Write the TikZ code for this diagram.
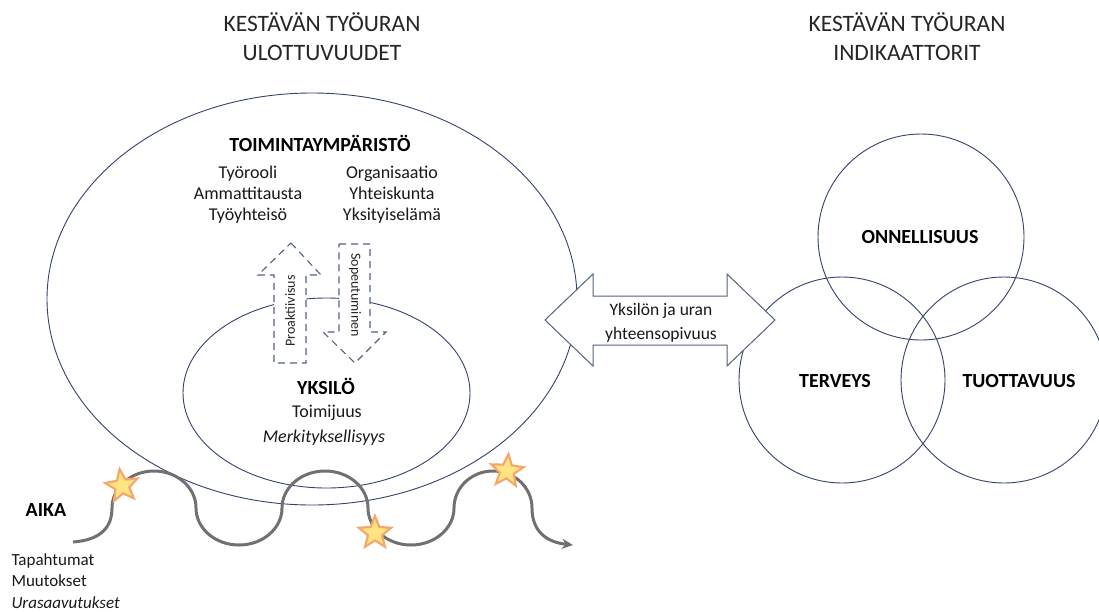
\documentclass[tikz,border=0pt]{standalone}
\usepackage{fontspec}
\setmainfont{Carlito}
\usetikzlibrary{shapes.geometric,arrows.meta}
\definecolor{navy}{RGB}{52,66,110}
\definecolor{arrowline}{RGB}{84,98,128}
\definecolor{wavegray}{RGB}{112,112,112}
\definecolor{starfill}{RGB}{255,228,130}
\definecolor{staredge}{RGB}{246,168,108}
\tikzset{
  outline/.style={draw=navy, line width=0.9pt},
  bigarrow/.style={draw=arrowline, line width=1pt, fill=white, line join=miter},
  dasharrow/.style={draw=arrowline, line width=1.1pt, fill=white, dash pattern=on 7pt off 5pt},
  wave/.style={draw=wavegray, line width=3pt, -{Stealth[length=11pt,width=10pt]}},
  starmark/.style={star, star points=5, star point ratio=2.3, minimum size=34pt, inner sep=0pt, fill=starfill, draw=staredge, line width=2.2pt},
  title/.style={font=\fontsize{23.5}{29}\selectfont, align=center, text=black!85},
  body/.style={font=\fontsize{18}{21}\selectfont, align=center, text=black!90},
  head/.style={font=\fontsize{20}{22}\selectfont\bfseries, text=black},
  small/.style={font=\fontsize{14}{16}\selectfont, text=black!85}
}
\begin{document}
\begin{tikzpicture}[x=1pt,y=-1pt]
\useasboundingbox (0,0) rectangle (1099,611);
% ellipses
\node[ellipse, outline, minimum width=530pt, minimum height=412pt, inner sep=0pt] (outer) at (312,299) {};
\node[ellipse, outline, minimum width=287pt, minimum height=190pt, inner sep=0pt] (inner) at (326.5,393) {};
% circles
\node[circle, outline, minimum size=206pt, inner sep=0pt] (onn) at (921,237) {};
\node[circle, outline, minimum size=206pt, inner sep=0pt] (ter) at (842,380) {};
\node[circle, outline, minimum size=206pt, inner sep=0pt] (tuo) at (1004,380) {};
% wave
\coordinate (ws) at (73,542);
\coordinate (we) at (573,545);
\draw[wave] (ws) .. controls (100,540) and (112,528) .. (112,508)
  arc[start angle=180, end angle=360, x radius=42, y radius=37]
  arc[start angle=180, end angle=0, x radius=43, y radius=37]
  arc[start angle=180, end angle=360, x radius=43, y radius=37]
  arc[start angle=180, end angle=0, x radius=43, y radius=37]
  arc[start angle=180, end angle=360, x radius=39, y radius=37]
  .. controls (532,530) and (545,542) .. (we);
% stars
\node[starmark, rotate=8] (s1) at (122,486) {};
\node[starmark] (s2) at (375,533) {};
\node[starmark, rotate=-5] (s3) at (507,471) {};
% double arrow
\draw[bigarrow] (545,320) -- (593,274) -- (593,296) -- (727,296) -- (727,274) -- (775,320) -- (727,366) -- (727,345) -- (593,345) -- (593,366) -- cycle;
% dashed arrows
\draw[dasharrow] (291,243) -- (321,275) -- (306,275) -- (306,363) -- (274,363) -- (274,275) -- (258,275) -- cycle;
\draw[dasharrow] (339,244) -- (370,244) -- (370,332) -- (386,332) -- (355,363) -- (323,332) -- (339,332) -- cycle;
\node[small, rotate=90] (proa) at (290,311) {Proaktiivisus};
\node[small, rotate=-90] (sope) at (355,295) {Sopeutuminen};
% titles
\node[title] (t1) at (322,37) {KESTÄVÄN TYÖURAN\\ULOTTUVUUDET};
\node[title] (t2) at (907,37) {KESTÄVÄN TYÖURAN\\INDIKAATTORIT};
% environment
\node[head] (toim) at (320,143) {TOIMINTAYMPÄRISTÖ};
\node[body] (lcol) at (248,195) {Työrooli\\Ammattitausta\\Työyhteisö};
\node[body] (rcol) at (392,195) {Organisaatio\\Yhteiskunta\\Yksityiselämä};
% individual
\node[head] (yks) at (326,386) {YKSILÖ};
\node[body] (toimij) at (327,413) {Toimijuus};
\node[body, font=\fontsize{18}{21}\selectfont\itshape] (merk) at (324,438) {Merkityksellisyys};
% arrow text
\node[body, font=\fontsize{17.5}{24}\selectfont] (fit) at (661,323) {Yksilön ja uran\\yhteensopivuus};
% indicators
\node[head] (onnt) at (920,237) {ONNELLISUUS};
\node[head] (tert) at (835,381) {TERVEYS};
\node[head] (tuot) at (1019,381) {TUOTTAVUUS};
% time
\node[head] (aika) at (46,510) {AIKA};
\node[body, align=left, anchor=west, font=\fontsize{17}{21.5}\selectfont] (tap) at (8,581) {Tapahtumat\\Muutokset\\\textit{Urasaavutukset}};
\end{tikzpicture}
\end{document}
